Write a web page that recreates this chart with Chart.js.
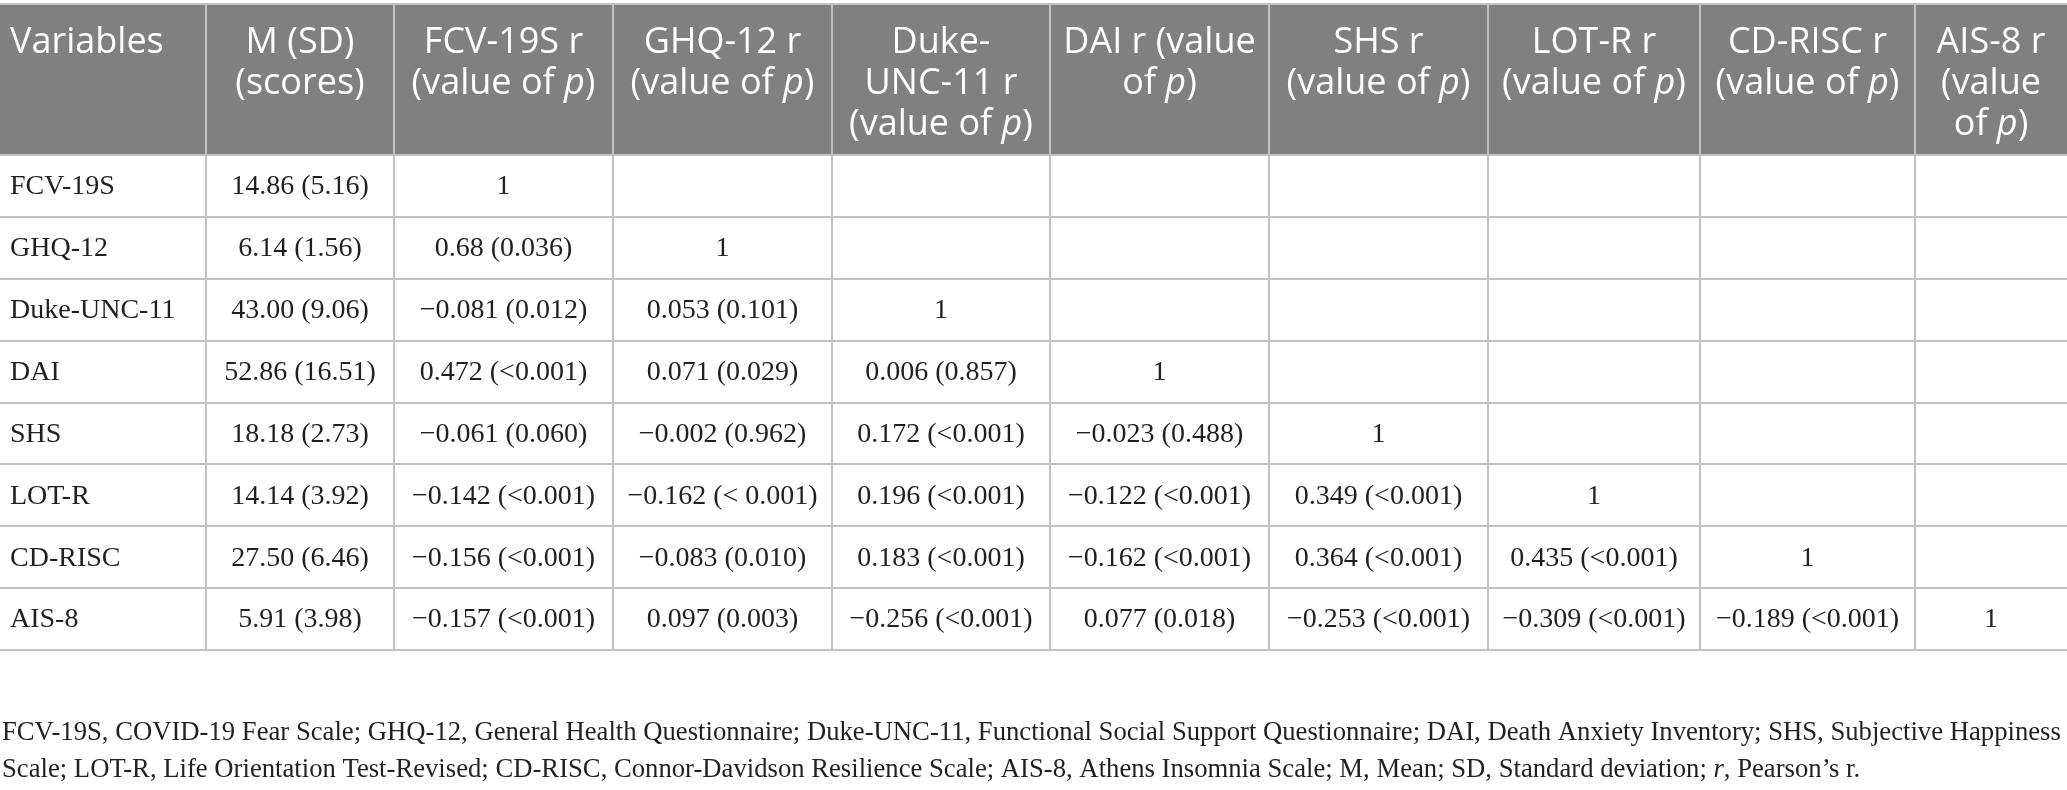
<!DOCTYPE html>
<html>
<head>
<meta charset="utf-8">
<script src="https://cdn.jsdelivr.net/npm/chart.js@4.4.1/dist/chart.umd.min.js"></script>
<style>
  html, body { margin: 0; padding: 0; background: #fff; }
  #wrap { width: 2067px; height: 790px; }
</style>
</head>
<body>
<div id="wrap"><canvas id="table" width="2067" height="790"></canvas></div>
<script>
// table contents
const variables = ['FCV-19S', 'GHQ-12', 'Duke-UNC-11', 'DAI', 'SHS', 'LOT-R', 'CD-RISC', 'AIS-8'];
const means = [14.86, 6.14, 43.00, 52.86, 18.18, 14.14, 27.50, 5.91];
const sds = [5.16, 1.56, 9.06, 16.51, 2.73, 3.92, 6.46, 3.98];

// lower triangle, diagonal (=1) left out
const rValues = [
  [],
  ['0.68'],
  ['\u22120.081', '0.053'],
  ['0.472', '0.071', '0.006'],
  ['\u22120.061', '\u22120.002', '0.172', '\u22120.023'],
  ['\u22120.142', '\u22120.162', '0.196', '\u22120.122', '0.349'],
  ['\u22120.156', '\u22120.083', '0.183', '\u22120.162', '0.364', '0.435'],
  ['\u22120.157', '0.097', '\u22120.256', '0.077', '\u22120.253', '\u22120.309', '\u22120.189'],
];
const pValues = [
  [],
  ['0.036'],
  ['0.012', '0.101'],
  ['<0.001', '0.029', '0.857'],
  ['0.060', '0.962', '<0.001', '0.488'],
  ['<0.001', '< 0.001', '<0.001', '<0.001', '<0.001'],
  ['<0.001', '0.010', '<0.001', '<0.001', '<0.001', '<0.001'],
  ['<0.001', '0.003', '<0.001', '0.018', '<0.001', '<0.001', '<0.001'],
];

// header lines, _x_ = italic
const headerLabels = [
  ['Variables'],
  ['M (SD)', '(scores)'],
  ['FCV-19S r', '(value of _p_)'],
  ['GHQ-12 r', '(value of _p_)'],
  ['Duke-', 'UNC-11 r', '(value of _p_)'],
  ['DAI r (value', 'of _p_)'],
  ['SHS r', '(value of _p_)'],
  ['LOT-R r', '(value of _p_)'],
  ['CD-RISC r', '(value of _p_)'],
  ['AIS-8 r', '(value', 'of _p_)'],
];

const footnote = [
  'FCV-19S, COVID-19 Fear Scale; GHQ-12, General Health Questionnaire; Duke-UNC-11, Functional Social Support Questionnaire; DAI, Death Anxiety Inventory; SHS, Subjective Happiness',
  'Scale; LOT-R, Life Orientation Test-Revised; CD-RISC, Connor-Davidson Resilience Scale; AIS-8, Athens Insomnia Scale; M, Mean; SD, Standard deviation; _r_, Pearson\u2019s r.',
];

// layout (scale units = px)
const colWidths = [206, 188, 219, 219, 218, 219, 219, 212, 215, 152];
const headerHeight = 151;
const rowHeight = 61.875;

const colEdges = [0];
colWidths.forEach(w => colEdges.push(colEdges[colEdges.length - 1] + w));
const rowEdges = [0, headerHeight];
variables.forEach(() => rowEdges.push(rowEdges[rowEdges.length - 1] + rowHeight));

const headerFill = '#7f807f';
const lineColor = '#c2c2c2';
const textColor = '#231f20';
const headFont = '"Open Sans", "Noto Sans", sans-serif';
const bodyFont = '"Liberation Serif", "DejaVu Serif", serif';

// draw a line made of plain/italic pieces
function drawPieces(ctx, line, x, y, size, family, align) {
  const parts = line.split('_');
  const fonts = parts.map((p, i) => (i % 2 ? 'italic ' : '') + size + 'px ' + family);
  let total = 0;
  const widths = parts.map((p, i) => { ctx.font = fonts[i]; const w = ctx.measureText(p).width; total += w; return w; });
  let cx = align === 'center' ? x - total / 2 : x;
  ctx.textAlign = 'left';
  parts.forEach((p, i) => {
    ctx.font = fonts[i];
    ctx.fillText(p, cx, y);
    cx += widths[i];
  });
}

function cellText(row, col) {
  if (col === 0) return variables[row];
  if (col === 1) return means[row].toFixed(2) + ' (' + sds[row].toFixed(2) + ')';
  const k = col - 2;
  if (k > row) return '';
  if (k === row) return '1';
  return rValues[row][k] + ' (' + pValues[row][k] + ')';
}

const tablePlugin = {
  id: 'tableCells',
  beforeDraw(chart) {
    const { ctx, scales: { x, y } } = chart;
    const x0 = x.getPixelForValue(colEdges[0]);
    const x1 = x.getPixelForValue(colEdges[colEdges.length - 1]);
    const y0 = y.getPixelForValue(rowEdges[0]);
    const y1 = y.getPixelForValue(rowEdges[1]);
    ctx.save();
    ctx.fillStyle = headerFill;
    ctx.fillRect(x0, y0, x1 - x0, y1 - y0);
    ctx.restore();
  },
  afterDraw(chart) {
    const { ctx, scales: { x, y } } = chart;
    ctx.save();

    // header
    ctx.fillStyle = '#ffffff';
    ctx.textBaseline = 'alphabetic';
    const headTop = y.getPixelForValue(rowEdges[0]);
    headerLabels.forEach((lines, c) => {
      const left = x.getPixelForValue(colEdges[c]);
      const mid = (left + x.getPixelForValue(colEdges[c + 1])) / 2;
      lines.forEach((ln, i) => {
        const by = headTop + 49 + i * 41;
        if (c === 0) drawPieces(ctx, ln, left + 10, by, 36, headFont, 'left');
        else drawPieces(ctx, ln, mid, by, 36, headFont, 'center');
      });
    });

    // body cells
    ctx.fillStyle = textColor;
    ctx.textBaseline = 'middle';
    ctx.font = '28px ' + bodyFont;
    variables.forEach((v, r) => {
      const cy = (y.getPixelForValue(rowEdges[r + 1]) + y.getPixelForValue(rowEdges[r + 2])) / 2 + 1;
      for (let c = 0; c < colWidths.length; c++) {
        const txt = cellText(r, c);
        if (!txt) continue;
        const left = x.getPixelForValue(colEdges[c]);
        if (c === 0) {
          ctx.textAlign = 'left';
          ctx.fillText(txt, left + 10, cy);
        } else {
          ctx.textAlign = 'center';
          ctx.fillText(txt, (left + x.getPixelForValue(colEdges[c + 1])) / 2, cy);
        }
      }
    });

    // footnote under the table
    ctx.textBaseline = 'alphabetic';
    const tableBottom = y.getPixelForValue(rowEdges[rowEdges.length - 1]);
    ctx.font = '26px ' + bodyFont;
    const want = 2060;
    const got = ctx.measureText(footnote[0]).width;
    const fs = Math.min(28, Math.max(20, 26 * want / got));
    footnote.forEach((ln, i) => {
      drawPieces(ctx, ln, x.getPixelForValue(0) + 2, tableBottom + 90 + i * 37, fs, bodyFont, 'left');
    });

    ctx.restore();
  }
};

function gridScale(edges, extra) {
  return Object.assign({
    type: 'linear',
    min: 0,
    max: edges[edges.length - 1],
    display: true,
    border: { display: false },
    grid: { color: lineColor, lineWidth: 2, drawTicks: false },
    ticks: { display: false },
  }, extra);
}

new Chart(document.getElementById('table'), {
  type: 'scatter',
  data: { datasets: [] },
  options: {
    responsive: false,
    animation: false,
    devicePixelRatio: 1,
    layout: { padding: { top: 4, left: 0, right: 0, bottom: 140 } },
    plugins: { legend: { display: false }, tooltip: { enabled: false } },
    scales: {
      x: gridScale(colEdges, {
        afterBuildTicks: s => { s.ticks = colEdges.slice(1, -1).map(v => ({ value: v })); }
      }),
      y: gridScale(rowEdges, {
        reverse: true,
        afterBuildTicks: s => { s.ticks = rowEdges.map(v => ({ value: v })); }
      }),
    },
  },
  plugins: [tablePlugin],
});
</script>
</body>
</html>
